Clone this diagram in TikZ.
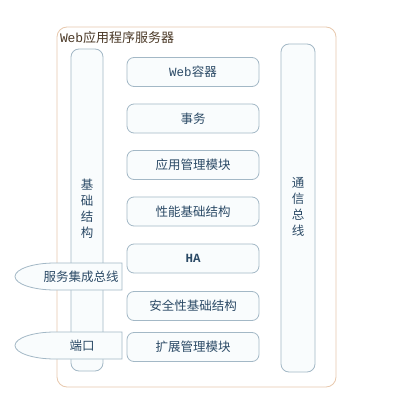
\documentclass[tikz,border=0pt]{standalone}
\usepackage{fontspec}
\setmainfont{Noto Sans CJK SC}
\newfontfamily\latinmono{Liberation Mono}
\definecolor{outerline}{HTML}{E8C9AE}
\definecolor{boxline}{HTML}{A3B8C6}
\definecolor{boxfill}{HTML}{F9FCFD}
\definecolor{txt}{HTML}{2B4A66}
\definecolor{titletxt}{HTML}{4A3826}
\tikzset{
  outerbox/.style={draw=outerline, line width=0.8pt, rounded corners=10pt, fill=white},
  stackbox/.style={draw=boxline, line width=0.8pt, rounded corners=7pt, fill=boxfill,
    minimum width=132pt, minimum height=29pt, text=txt, font=\fontsize{12.5}{14}\selectfont, inner sep=0pt},
  colbox/.style={draw=boxline, line width=0.8pt, rounded corners=8pt, fill=boxfill},
  vlabel/.style={text=txt, font=\fontsize{12.5}{16}\selectfont, align=center, inner sep=0pt},
  tabshape/.style={draw=boxline, line width=0.8pt, fill=boxfill},
  tablabel/.style={text=txt, font=\fontsize{12.5}{14}\selectfont, inner sep=0pt}
}
\begin{document}
\begin{tikzpicture}[x=1pt,y=-1pt]
\useasboundingbox[fill=white] (0,0) rectangle (418,409);
% outer frame
\draw[outerbox] (57,27) rectangle (336,387);
\node[anchor=west, text=titletxt, font=\fontsize{13}{15}\selectfont, inner sep=0pt] (title) at (60,38) {{\latinmono W\kern-0.5pt eb}应用程序服务器};
% columns
\draw[colbox] (71,49) rectangle (103,371);
\node[vlabel] (jichu) at (87,209) {基\\础\\结\\构};
\draw[colbox] (281,44) rectangle (315,372);
\node[vlabel] (tongxin) at (298,207) {通\\信\\总\\线};
% middle stack
\node[stackbox] (web) at (193,72) {{\latinmono Web}容器};
\node[stackbox] (shiwu) at (193,118.5) {事务};
\node[stackbox] (yingyong) at (193,165) {应用管理模块};
\node[stackbox] (xingneng) at (193,211.5) {性能基础结构};
\node[stackbox] (ha) at (193,258.5) {{\latinmono\bfseries HA}};
\node[stackbox] (anquan) at (193,306) {安全性基础结构};
\node[stackbox] (kuozhan) at (193,347) {扩展管理模块};
% tabs
\draw[tabshape] (122,263) -- (55,263) arc[start angle=270,end angle=90,x radius=40,y radius=13.5] -- (122,290) -- cycle;
\node[tablabel] (fuwu) at (81,276.5) {服务集成总线};
\draw[tabshape] (122,332) -- (55,332) arc[start angle=270,end angle=90,x radius=40,y radius=13.5] -- (122,359) -- cycle;
\node[tablabel] (duankou) at (82,345.5) {端口};
\end{tikzpicture}
\end{document}
